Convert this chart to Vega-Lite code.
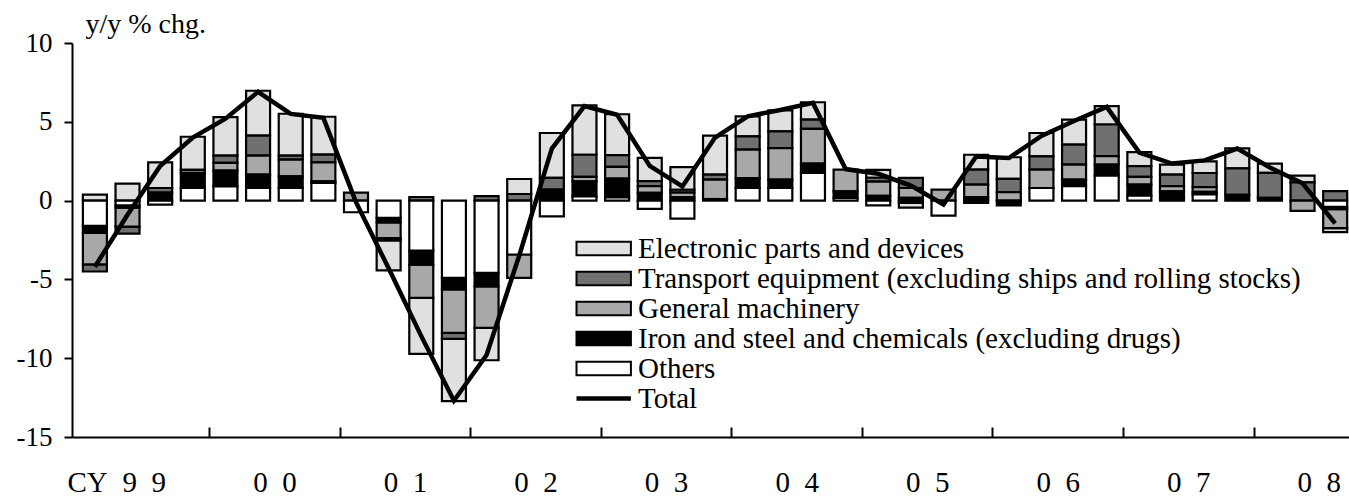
{
  "$schema": "https://vega.github.io/schema/vega-lite/v6.json",
  "width": 1277,
  "height": 394,
  "autosize": {"type": "none"},
  "padding": {"left": 72, "top": 43, "right": 0, "bottom": 60},
  "background": "white",
  "config": {
    "view": {"stroke": null},
    "font": "Liberation Serif",
    "axis": {"grid": false, "domainColor": "black", "tickColor": "black", "labelColor": "black", "labelFont": "Liberation Serif", "labelFontSize": 27, "domainWidth": 2, "tickWidth": 2}
  },
  "datasets": {
    "bars": [
      {"q": 1999.125, "Others": -1.6, "Iron and steel and chemicals (excluding drugs)": -0.45, "General machinery": -2.0, "Transport equipment (excluding ships and rolling stocks)": -0.45, "Electronic parts and devices": 0.38},
      {"q": 1999.375, "Others": -0.3, "Iron and steel and chemicals (excluding drugs)": -0.15, "General machinery": -1.2, "Transport equipment (excluding ships and rolling stocks)": -0.45, "Electronic parts and devices": 1.08},
      {"q": 1999.625, "Others": -0.25, "Iron and steel and chemicals (excluding drugs)": 0.5, "General machinery": 0, "Transport equipment (excluding ships and rolling stocks)": 0.3, "Electronic parts and devices": 1.63},
      {"q": 1999.875, "Others": 0.8, "Iron and steel and chemicals (excluding drugs)": 0.95, "General machinery": 0, "Transport equipment (excluding ships and rolling stocks)": 0.2, "Electronic parts and devices": 2.1},
      {"q": 2000.125, "Others": 0.9, "Iron and steel and chemicals (excluding drugs)": 1.0, "General machinery": 0.5, "Transport equipment (excluding ships and rolling stocks)": 0.45, "Electronic parts and devices": 2.45},
      {"q": 2000.375, "Others": 0.8, "Iron and steel and chemicals (excluding drugs)": 0.85, "General machinery": 1.2, "Transport equipment (excluding ships and rolling stocks)": 1.27, "Electronic parts and devices": 2.85},
      {"q": 2000.625, "Others": 0.8, "Iron and steel and chemicals (excluding drugs)": 0.74, "General machinery": 1.06, "Transport equipment (excluding ships and rolling stocks)": 0.25, "Electronic parts and devices": 2.66},
      {"q": 2000.875, "Others": 1.12, "Iron and steel and chemicals (excluding drugs)": 0.1, "General machinery": 1.2, "Transport equipment (excluding ships and rolling stocks)": 0.5, "Electronic parts and devices": 2.4},
      {"q": 2001.125, "Others": -0.74, "Iron and steel and chemicals (excluding drugs)": 0, "General machinery": 0.5, "Transport equipment (excluding ships and rolling stocks)": 0, "Electronic parts and devices": 0},
      {"q": 2001.375, "Others": -1.1, "Iron and steel and chemicals (excluding drugs)": -0.28, "General machinery": -1.0, "Transport equipment (excluding ships and rolling stocks)": -0.15, "Electronic parts and devices": -1.9},
      {"q": 2001.625, "Others": -3.17, "Iron and steel and chemicals (excluding drugs)": -0.89, "General machinery": -2.11, "Transport equipment (excluding ships and rolling stocks)": 0.23, "Electronic parts and devices": -3.55},
      {"q": 2001.875, "Others": -4.9, "Iron and steel and chemicals (excluding drugs)": -0.74, "General machinery": -2.75, "Transport equipment (excluding ships and rolling stocks)": -0.38, "Electronic parts and devices": -3.96},
      {"q": 2002.125, "Others": -4.59, "Iron and steel and chemicals (excluding drugs)": -0.85, "General machinery": -2.64, "Transport equipment (excluding ships and rolling stocks)": 0.28, "Electronic parts and devices": -2.05},
      {"q": 2002.375, "Others": -3.42, "Iron and steel and chemicals (excluding drugs)": 0, "General machinery": -1.48, "Transport equipment (excluding ships and rolling stocks)": 0.42, "Electronic parts and devices": 0.95},
      {"q": 2002.625, "Others": -1.0, "Iron and steel and chemicals (excluding drugs)": 0.7, "General machinery": 0, "Transport equipment (excluding ships and rolling stocks)": 0.74, "Electronic parts and devices": 2.85},
      {"q": 2002.875, "Others": 0.27, "Iron and steel and chemicals (excluding drugs)": 0.95, "General machinery": 0.28, "Transport equipment (excluding ships and rolling stocks)": 1.41, "Electronic parts and devices": 3.13},
      {"q": 2003.125, "Others": 0.2, "Iron and steel and chemicals (excluding drugs)": 1.2, "General machinery": 0.74, "Transport equipment (excluding ships and rolling stocks)": 0.74, "Electronic parts and devices": 2.6},
      {"q": 2003.375, "Others": -0.53, "Iron and steel and chemicals (excluding drugs)": 0.49, "General machinery": 0.42, "Transport equipment (excluding ships and rolling stocks)": 0.32, "Electronic parts and devices": 1.48},
      {"q": 2003.625, "Others": -1.14, "Iron and steel and chemicals (excluding drugs)": 0.2, "General machinery": 0.3, "Transport equipment (excluding ships and rolling stocks)": 0.19, "Electronic parts and devices": 1.44},
      {"q": 2003.875, "Others": 0, "Iron and steel and chemicals (excluding drugs)": 0.1, "General machinery": 1.23, "Transport equipment (excluding ships and rolling stocks)": 0.32, "Electronic parts and devices": 2.47},
      {"q": 2004.125, "Others": 0.8, "Iron and steel and chemicals (excluding drugs)": 0.63, "General machinery": 1.8, "Transport equipment (excluding ships and rolling stocks)": 0.85, "Electronic parts and devices": 1.27},
      {"q": 2004.375, "Others": 0.8, "Iron and steel and chemicals (excluding drugs)": 0.53, "General machinery": 2.0, "Transport equipment (excluding ships and rolling stocks)": 1.06, "Electronic parts and devices": 1.33},
      {"q": 2004.625, "Others": 1.76, "Iron and steel and chemicals (excluding drugs)": 0.59, "General machinery": 2.2, "Transport equipment (excluding ships and rolling stocks)": 0.59, "Electronic parts and devices": 1.1},
      {"q": 2004.875, "Others": 0.17, "Iron and steel and chemicals (excluding drugs)": 0.42, "General machinery": 1.37, "Transport equipment (excluding ships and rolling stocks)": 0, "Electronic parts and devices": 0},
      {"q": 2005.125, "Others": -0.3, "Iron and steel and chemicals (excluding drugs)": 0.3, "General machinery": 0.9, "Transport equipment (excluding ships and rolling stocks)": 0.25, "Electronic parts and devices": 0.5},
      {"q": 2005.375, "Others": -0.15, "Iron and steel and chemicals (excluding drugs)": 0.17, "General machinery": 0.63, "Transport equipment (excluding ships and rolling stocks)": 0.64, "Electronic parts and devices": -0.3},
      {"q": 2005.625, "Others": -0.95, "Iron and steel and chemicals (excluding drugs)": 0, "General machinery": 0.7, "Transport equipment (excluding ships and rolling stocks)": 0, "Electronic parts and devices": 0},
      {"q": 2005.875, "Others": -0.15, "Iron and steel and chemicals (excluding drugs)": 0.23, "General machinery": 0.78, "Transport equipment (excluding ships and rolling stocks)": 0.95, "Electronic parts and devices": 0.95},
      {"q": 2006.125, "Others": 0, "Iron and steel and chemicals (excluding drugs)": -0.3, "General machinery": 0.53, "Transport equipment (excluding ships and rolling stocks)": 0.85, "Electronic parts and devices": 1.37},
      {"q": 2006.375, "Others": 0.8, "Iron and steel and chemicals (excluding drugs)": 0, "General machinery": 1.16, "Transport equipment (excluding ships and rolling stocks)": 0.85, "Electronic parts and devices": 1.48},
      {"q": 2006.625, "Others": 0.91, "Iron and steel and chemicals (excluding drugs)": 0.42, "General machinery": 0.95, "Transport equipment (excluding ships and rolling stocks)": 1.27, "Electronic parts and devices": 1.59},
      {"q": 2006.875, "Others": 1.59, "Iron and steel and chemicals (excluding drugs)": 0.7, "General machinery": 0.53, "Transport equipment (excluding ships and rolling stocks)": 2.01, "Electronic parts and devices": 1.16},
      {"q": 2007.125, "Others": 0.32, "Iron and steel and chemicals (excluding drugs)": 0.7, "General machinery": 0.49, "Transport equipment (excluding ships and rolling stocks)": 0.68, "Electronic parts and devices": 0.89},
      {"q": 2007.375, "Others": 0, "Iron and steel and chemicals (excluding drugs)": 0.59, "General machinery": 0.32, "Transport equipment (excluding ships and rolling stocks)": 0.74, "Electronic parts and devices": 0.63},
      {"q": 2007.625, "Others": 0.4, "Iron and steel and chemicals (excluding drugs)": 0.15, "General machinery": 0.3, "Transport equipment (excluding ships and rolling stocks)": 0.9, "Electronic parts and devices": 0.74},
      {"q": 2007.875, "Others": 0, "Iron and steel and chemicals (excluding drugs)": 0.36, "General machinery": 0, "Transport equipment (excluding ships and rolling stocks)": 1.69, "Electronic parts and devices": 1.27},
      {"q": 2008.125, "Others": 0, "Iron and steel and chemicals (excluding drugs)": 0.17, "General machinery": 0, "Transport equipment (excluding ships and rolling stocks)": 1.59, "Electronic parts and devices": 0.59},
      {"q": 2008.375, "Others": 0, "Iron and steel and chemicals (excluding drugs)": 0, "General machinery": -0.65, "Transport equipment (excluding ships and rolling stocks)": 1.16, "Electronic parts and devices": 0.42},
      {"q": 2008.625, "Others": -0.4, "Iron and steel and chemicals (excluding drugs)": -0.15, "General machinery": -1.2, "Transport equipment (excluding ships and rolling stocks)": 0.6, "Electronic parts and devices": -0.25}
    ],
    "total": [
      {"q": 1999.125, "Total": -4.2}, {"q": 1999.375, "Total": -0.9}, {"q": 1999.625, "Total": 2.2}, {"q": 1999.875, "Total": 4.0},
      {"q": 2000.125, "Total": 5.2}, {"q": 2000.375, "Total": 6.9}, {"q": 2000.625, "Total": 5.5}, {"q": 2000.875, "Total": 5.25},
      {"q": 2001.125, "Total": -0.1}, {"q": 2001.375, "Total": -4.3}, {"q": 2001.625, "Total": -8.6}, {"q": 2001.875, "Total": -12.7},
      {"q": 2002.125, "Total": -9.8}, {"q": 2002.375, "Total": -3.5}, {"q": 2002.625, "Total": 3.3}, {"q": 2002.875, "Total": 6.0},
      {"q": 2003.125, "Total": 5.45}, {"q": 2003.375, "Total": 2.2}, {"q": 2003.625, "Total": 0.9}, {"q": 2003.875, "Total": 4.0},
      {"q": 2004.125, "Total": 5.35}, {"q": 2004.375, "Total": 5.75}, {"q": 2004.625, "Total": 6.2}, {"q": 2004.875, "Total": 2.0},
      {"q": 2005.125, "Total": 1.7}, {"q": 2005.375, "Total": 0.95}, {"q": 2005.625, "Total": -0.25}, {"q": 2005.875, "Total": 2.8},
      {"q": 2006.125, "Total": 2.7}, {"q": 2006.375, "Total": 4.1}, {"q": 2006.625, "Total": 5.05}, {"q": 2006.875, "Total": 5.95},
      {"q": 2007.125, "Total": 3.05}, {"q": 2007.375, "Total": 2.35}, {"q": 2007.625, "Total": 2.55}, {"q": 2007.875, "Total": 3.3},
      {"q": 2008.125, "Total": 2.1}, {"q": 2008.375, "Total": 1.1}, {"q": 2008.625, "Total": -1.45}
    ]
  },
  "layer": [
    {
      "data": {"name": "bars"},
      "transform": [
        {"fold": ["Electronic parts and devices", "Transport equipment (excluding ships and rolling stocks)", "General machinery", "Iron and steel and chemicals (excluding drugs)", "Others"], "as": ["c", "v"]},
        {"filter": "datum.v !== 0"},
        {"calculate": "indexof(['Others', 'Iron and steel and chemicals (excluding drugs)', 'General machinery', 'Transport equipment (excluding ships and rolling stocks)', 'Electronic parts and devices'], datum.c)", "as": "o"}
      ],
      "mark": {"type": "bar", "size": 24, "stroke": "black", "strokeWidth": 2.2},
      "encoding": {
        "x": {
          "field": "q", "type": "quantitative",
          "scale": {"domain": [1998.988, 2008.6925], "nice": false, "zero": false},
          "axis": {
            "title": null,
            "values": [1999.065, 1999.5, 2000, 2000.5, 2001, 2001.5, 2002, 2002.5, 2003, 2003.5, 2004, 2004.5, 2005, 2005.5, 2006, 2006.5, 2007, 2007.5, 2008, 2008.5],
            "tickSize": -10,
            "tickOpacity": {"condition": {"test": "datum.value % 1 === 0", "value": 1}, "value": 0},
            "labelExpr": "datum.value < 1999.3 ? 'CY' : (datum.value % 1 === 0 ? '' : (datum.value < 2000 ? '9\u00a0\u00a09' : '0\u00a0\u00a0' + (floor(datum.value) - 2000)))",
            "labelFontSize": 29,
            "labelPadding": 41,
            "labelFlush": false,
            "labelOverlap": false
          }
        },
        "y": {
          "field": "v", "type": "quantitative", "stack": "zero",
          "scale": {"domain": [-15, 10], "nice": false},
          "axis": {
            "values": [-15, -10, -5, 0, 5, 10],
            "tickSize": 8,
            "labelPadding": 12,
            "labelExpr": "datum.value + ''",
            "title": "y/y % chg.",
            "titleAngle": 0,
            "titleAlign": "left",
            "titleBaseline": "alphabetic",
            "titleX": 13,
            "titleY": -11,
            "titleFont": "Liberation Serif",
            "titleFontSize": 28,
            "titleFontWeight": "normal",
            "titleColor": "black"
          }
        },
        "order": {"field": "o", "type": "quantitative", "sort": "ascending"},
        "fill": {
          "field": "c", "type": "nominal",
          "scale": {
            "domain": ["Others", "Iron and steel and chemicals (excluding drugs)", "General machinery", "Transport equipment (excluding ships and rolling stocks)", "Electronic parts and devices"],
            "range": ["#ffffff", "#000000", "#a8a8a8", "#707070", "#e0e0e0"]
          },
          "legend": {
            "orient": "none", "legendX": 498, "legendY": 191,
            "values": ["Electronic parts and devices", "Transport equipment (excluding ships and rolling stocks)", "General machinery", "Iron and steel and chemicals (excluding drugs)", "Others"],
            "title": null,
            "symbolType": "M-1,-0.85H5.8V0.85H-1Z",
            "symbolSize": 256,
            "symbolStrokeColor": "black",
            "symbolStrokeWidth": 2,
            "symbolOpacity": 1,
            "labelFont": "Liberation Serif", "labelFontSize": 29, "labelColor": "black",
            "labelOffset": 39, "labelLimit": 900,
            "rowPadding": 0, "padding": 0
          }
        }
      }
    },
    {"mark": {"type": "rule", "color": "black", "strokeWidth": 3}, "encoding": {"y": {"datum": 0}}},
    {"mark": {"type": "rule", "color": "black", "strokeWidth": 2}, "encoding": {"y": {"datum": 10}}},
    {
      "data": {"name": "total"},
      "mark": {"type": "line", "strokeWidth": 4.5, "strokeJoin": "miter"},
      "encoding": {
        "x": {"field": "q", "type": "quantitative"},
        "y": {"field": "Total", "type": "quantitative"},
        "stroke": {
          "datum": "Total", "type": "nominal",
          "scale": {"range": ["black"]},
          "legend": {
            "orient": "none", "legendX": 498, "legendY": 341,
            "title": null,
            "symbolType": "M-1,0H5.8",
            "symbolSize": 256,
            "symbolStrokeWidth": 4.5,
            "labelFont": "Liberation Serif", "labelFontSize": 29, "labelColor": "black",
            "labelOffset": 39, "padding": 0
          }
        }
      }
    }
  ]
}
